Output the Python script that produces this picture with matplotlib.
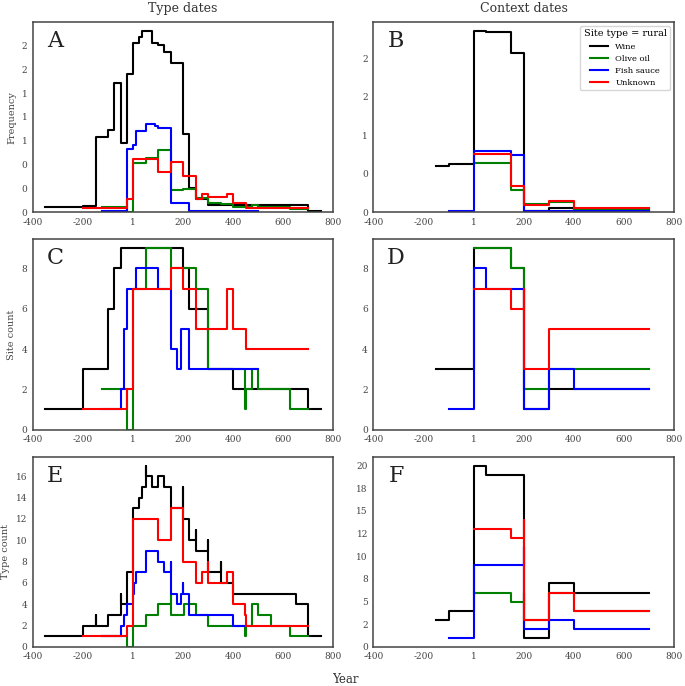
import numpy as np
import matplotlib
matplotlib.use('Agg')
import matplotlib.pyplot as plt
from matplotlib.ticker import MultipleLocator, FormatStrFormatter

plt.rcParams['font.family'] = ['DejaVu Serif']
plt.rcParams['axes.unicode_minus'] = False

series_names = ['Wine', 'Olive oil', 'Fish sauce', 'Unknown']
series_colors = ['black', 'green', 'blue', 'red']

# Panel A: type dates, frequency (step edges + values)
a_wine_x = [-350, -200, -150, -100, -75, -50, -25, 0, 25, 37.5, 75, 100, 125, 150, 200, 225, 250, 300, 700, 750]
a_wine_y = [0.06, 0.07, 0.79, 0.86, 1.35, 0.73, 1.45, 1.77, 1.84, 1.90, 1.77, 1.75, 1.68, 1.56, 0.82, 0.25, 0.14, 0.08, 0.01]
a_oil_x = [-125, -25, 0, 50, 100, 150, 200, 250, 300, 350, 400, 450, 475, 500, 550, 625, 700]
a_oil_y = [0.06, 0.0, 0.52, 0.57, 0.65, 0.23, 0.24, 0.15, 0.10, 0.09, 0.06, 0.05, 0.08, 0.06, 0.06, 0.03]
a_fish_x = [-125, -25, 0, 12.5, 50, 87.5, 100, 150, 225, 500]
a_fish_y = [0.01, 0.66, 0.70, 0.85, 0.93, 0.90, 0.88, 0.10, 0.01]
a_unk_x = [-200, -25, 0, 100, 150, 200, 250, 275, 300, 375, 400, 450, 700]
a_unk_y = [0.045, 0.14, 0.56, 0.42, 0.53, 0.38, 0.14, 0.19, 0.155, 0.19, 0.10, 0.045]

# Panel B: context dates, frequency
b_wine_x = [-150, -100, 0, 50, 150, 200, 300, 400, 700]
b_wine_y = [0.60, 0.62, 2.35, 2.34, 2.06, 0.02, 0.06, 0.03]
b_oil_x = [0, 150, 200, 300, 400, 700]
b_oil_y = [0.64, 0.29, 0.11, 0.13, 0.03]
b_fish_x = [-100, 0, 150, 200, 700]
b_fish_y = [0.01, 0.80, 0.74, 0.02]
b_unk_x = [0, 150, 200, 300, 400, 700]
b_unk_y = [0.76, 0.34, 0.09, 0.14, 0.05]

# Panel C: type dates, site count
c_wine_x = [-350, -200, -100, -75, -50, 200, 225, 300, 400, 700, 750]
c_wine_y = [1, 3, 6, 8, 9, 8, 6, 3, 2, 1]
c_oil_x = [-125, -25, 0, 50, 150, 250, 300, 445, 450, 475, 500, 625, 700]
c_oil_y = [2, 0, 7, 9, 8, 7, 3, 1, 2, 3, 2, 1]
c_fish_x = [-125, -50, -35, -25, 12.5, 100, 150, 175, 190, 225, 500]
c_fish_y = [1, 2, 5, 7, 8, 7, 4, 3, 5, 3]
c_unk_x = [-200, -25, 0, 150, 200, 250, 375, 400, 450, 700]
c_unk_y = [1, 2, 7, 8, 7, 5, 7, 5, 4]

# Panel D: context dates, site count
d_wine_x = [-150, 0, 150, 200, 300, 700]
d_wine_y = [3, 9, 8, 1, 2]
d_oil_x = [0, 150, 200, 300, 700]
d_oil_y = [9, 8, 2, 3]
d_fish_x = [-100, 0, 50, 200, 300, 400, 700]
d_fish_y = [1, 8, 7, 1, 3, 2]
d_unk_x = [0, 150, 200, 201, 300, 700]
d_unk_y = [7, 6, 7, 3, 5]

# Panel E: type dates, type count
e_wine_x = [-350, -200, -150, -149, -100, -50, -49, -25, 0, 25, 37.5, 50, 51, 75, 100, 125, 150,
            200, 201, 225, 250, 251, 300, 301, 350, 351, 400, 650, 700, 750]
e_wine_y = [1, 2, 3, 2, 3, 5, 4, 7, 13, 14, 15, 17, 16, 15, 16, 15, 13,
            15, 12, 10, 11, 9, 10, 7, 8, 6, 5, 4, 1]
e_oil_x = [-125, -25, 0, 50, 100, 150, 151, 205, 250, 300, 445, 450, 475, 500, 550, 625, 700]
e_oil_y = [1, 0, 2, 3, 4, 5, 3, 4, 3, 2, 1, 2, 4, 3, 2, 1]
e_fish_x = [-125, -50, -35, -25, 0, 5, 12.5, 50, 100, 125, 150, 151, 175, 190, 200, 201, 225, 400, 450]
e_fish_y = [1, 2, 3, 4, 5, 6, 7, 9, 8, 7, 8, 5, 4, 5, 6, 5, 3, 2]
e_unk_x = [-200, -25, 0, 100, 150, 200, 250, 275, 300, 301, 375, 400, 445, 450, 700]
e_unk_y = [1, 2, 12, 10, 13, 8, 6, 7, 8, 6, 7, 4, 3, 2]

# Panel F: context dates, type count
f_wine_x = [-150, -100, 0, 50, 200, 300, 400, 700]
f_wine_y = [3, 4, 20, 19, 1, 7, 6]
f_oil_x = [0, 150, 200, 201, 300, 400, 700]
f_oil_y = [6, 5, 6, 3, 6, 4]
f_fish_x = [-100, 0, 200, 201, 300, 400, 700]
f_fish_y = [1, 9, 11, 2, 3, 2]
f_unk_x = [0, 150, 200, 201, 300, 400, 700]
f_unk_y = [13, 12, 14, 3, 6, 4]

panels = [
    ('A', [(a_wine_x, a_wine_y), (a_oil_x, a_oil_y), (a_fish_x, a_fish_y), (a_unk_x, a_unk_y)], 0.25),
    ('B', [(b_wine_x, b_wine_y), (b_oil_x, b_oil_y), (b_fish_x, b_fish_y), (b_unk_x, b_unk_y)], 0.5),
    ('C', [(c_wine_x, c_wine_y), (c_oil_x, c_oil_y), (c_fish_x, c_fish_y), (c_unk_x, c_unk_y)], 2),
    ('D', [(d_wine_x, d_wine_y), (d_oil_x, d_oil_y), (d_fish_x, d_fish_y), (d_unk_x, d_unk_y)], 2),
    ('E', [(e_wine_x, e_wine_y), (e_oil_x, e_oil_y), (e_fish_x, e_fish_y), (e_unk_x, e_unk_y)], 2),
    ('F', [(f_wine_x, f_wine_y), (f_oil_x, f_oil_y), (f_fish_x, f_fish_y), (f_unk_x, f_unk_y)], 2.5),
]

xticks = [-400, -200, 0, 200, 400, 600, 800]
xticklabels = ['-400', '-200', '1', '200', '400', '600', '800']
ylabels = ['Frequency', 'Site count', 'Type count']

fig, axes = plt.subplots(3, 2, figsize=(6.85, 6.86), dpi=100)
fig.subplots_adjust(left=0.048, right=0.984, top=0.968, bottom=0.057, wspace=0.133, hspace=0.142)

for ax, (letter, lines, ystep) in zip(axes.flat, panels):
    ymax = 0
    for (x, y), name, col in zip(lines, series_names, series_colors):
        ax.step(x, list(y) + [y[-1]], where='post', color=col, lw=1.5, label=name)
        ymax = max(ymax, max(y))
    ax.set_xlim(-400, 800)
    ax.set_ylim(0, ymax * 1.05)
    ax.set_xticks(xticks)
    ax.set_xticklabels(xticklabels)
    ax.yaxis.set_major_locator(MultipleLocator(ystep))
    ax.yaxis.set_major_formatter(FormatStrFormatter('%.0f'))
    ax.tick_params(length=0, labelsize=6.5, labelcolor='#444444', pad=4)
    for s in ax.spines.values():
        s.set_color('#444444')
        s.set_linewidth(1.1)
    ax.text(0.075, 0.9, letter, transform=ax.transAxes, fontsize=16,
            ha='center', va='center', color='#222222')

for i, lab in enumerate(ylabels):
    axes[i, 0].set_ylabel(lab, fontsize=7, color='#444444', labelpad=4)

axes[0, 0].set_title('Type dates', fontsize=9, color='#333333', pad=7.5)
axes[0, 1].set_title('Context dates', fontsize=9, color='#333333', pad=7.5)

leg = axes[0, 1].legend(title='Site type = rural', loc='upper right', fontsize=6,
                        title_fontsize=7, frameon=True, handlelength=2.2)
leg.get_frame().set_edgecolor('#cccccc')

fig.text(0.504, 0.01, 'Year', ha='center', va='center', fontsize=8.5, color='#333333')

plt.savefig('out.png', dpi=100)
